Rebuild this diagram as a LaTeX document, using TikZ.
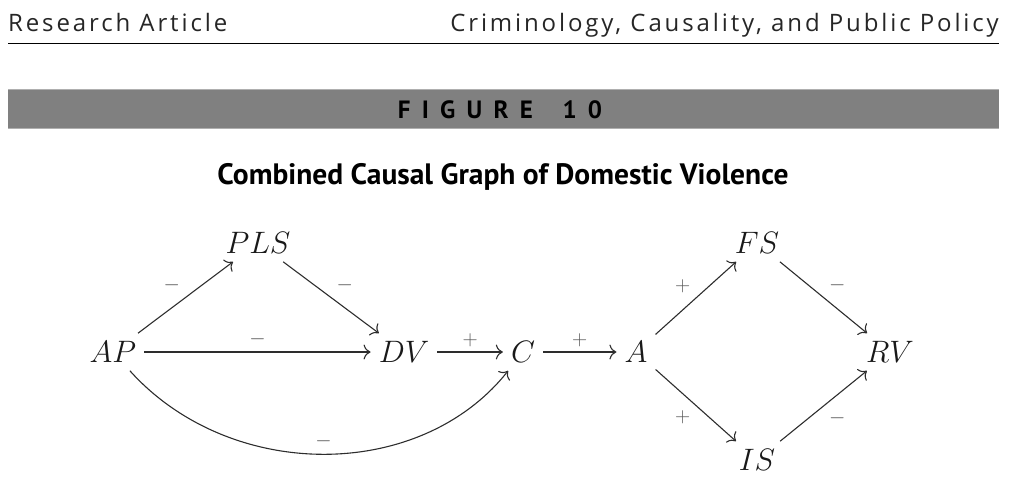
\RequirePackage{fix-cm}
\documentclass[tikz,border=0pt]{standalone}
\usepackage{fontspec}
\usetikzlibrary{arrows.meta}
\newfontfamily\headfont[LetterSpace=12]{Open Sans}
\newfontfamily\capfont[LetterSpace=45]{PT Sans}
\newfontfamily\titlefont{PT Sans}
\definecolor{barcol}{RGB}{128,128,128}
\definecolor{baredge}{RGB}{175,175,175}
\definecolor{linecol}{RGB}{45,45,45}
\definecolor{labcol}{RGB}{85,85,85}
\tikzset{
  var/.style={inner sep=8pt, font=\fontsize{31}{36}\selectfont, text=black!90},
  arr/.style={draw=linecol, line width=1.1pt, -{Computer Modern Rightarrow[length=7pt,width=15pt]}},
  lab/.style={inner sep=5pt, text=labcol, font=\fontsize{21}{24}\selectfont}
}
\begin{document}
\begin{tikzpicture}[x=1pt,y=-1pt]
  \useasboundingbox (0,0) rectangle (1009,488);
  % running head
  \node[anchor=base west, inner sep=0pt, text=black!85, font=\headfont\fontsize{24}{28}\selectfont] (head) at (8,31) {Research Article};
  \node[anchor=base east, inner sep=0pt, text=black!85, font=\headfont\fontsize{24}{28}\selectfont] (journal) at (999,31) {Criminology, Causality, and Public Policy};
  \draw[line width=1.5pt] (8,43.5) -- (999,43.5);
  % figure bar
  \fill[barcol] (8,89) rectangle (999,129);
  \draw[baredge, line width=1pt] (8,89.5) -- (999,89.5) (8,128.5) -- (999,128.5);
  \node[anchor=base, inner sep=0pt, font=\capfont\bfseries\fontsize{25}{28}\selectfont] (fig) at (500,118) {FIGURE\hspace{12pt} 10};
  \node[anchor=base, inner sep=0pt, font=\titlefont\bfseries\fontsize{29.5}{34}\selectfont] (title) at (503,184) {Combined Causal Graph of Domestic Violence};
  % variables
  \node[var] (AP) at (113,352) {$AP$};
  \node[var] (PLS) at (258,243) {$PLS$};
  \node[var] (DV) at (404,352) {$DV$};
  \node[var] (C) at (523,352) {$C$};
  \node[var] (A) at (636,352) {$A$};
  \node[var] (FS) at (757,243) {$FS$};
  \node[var] (RV) at (890,352) {$RV$};
  \node[var] (IS) at (757,460) {$IS$};
  % arrows
  \draw[arr] (AP) -- node[lab, above left] {$-$} (PLS);
  \draw[arr] (PLS) -- node[lab, above right] {$-$} (DV);
  \draw[arr] (AP) -- node[lab, above] {$-$} (DV);
  \draw[arr] (DV) -- node[lab, above] {$+$} (C);
  \draw[arr] (C) -- node[lab, above] {$+$} (A);
  \draw[arr] (AP) .. controls (230,482) and (420,482) .. node[lab, above] {$-$} (C);
  \draw[arr] (A) -- node[lab, above left] {$+$} (FS);
  \draw[arr] (FS) -- node[lab, above right] {$-$} (RV);
  \draw[arr] (A) -- node[lab, below left] {$+$} (IS);
  \draw[arr] (IS) -- node[lab, below right] {$-$} (RV);
\end{tikzpicture}
\end{document}
